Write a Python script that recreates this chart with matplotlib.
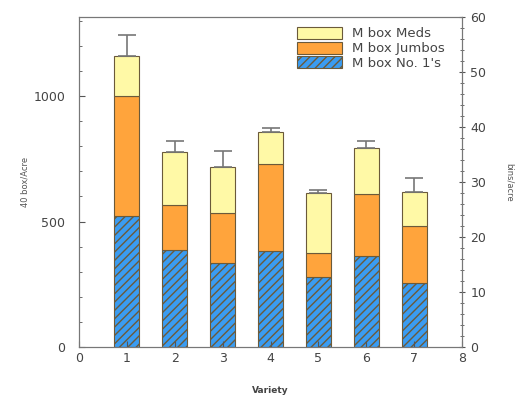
"""
variety_yield_plot.py
"""
import numpy as np
import matplotlib.pyplot as plt
from matplotlib.ticker import MultipleLocator
# ------------------------Data--------------------------------------------------
variety = [1, 2, 3, 4, 5, 6, 7]
no1 = [521, 386, 334, 383, 279, 362, 255]
jumbos = [481, 179, 199, 345, 95, 246, 226]
meds = [159, 211, 183, 127, 238, 183, 136]
err_up = [84, 44, 64, 16, 12, 29, 55]
# ------------------------------------------------------------------------------
c_meds = '#FFF9A6'
c_jumbo = '#FFA43C'
c_no1 = '#3A9CF2'
edge = '#6b5a3a'
plt.rcParams['hatch.color'] = '#1f5fb0'
plt.rcParams['hatch.linewidth'] = 1.0
# ------------------------------------------------------------------------------
fig = plt.figure(figsize=(5.3, 4.08), dpi=100)
ax = fig.add_axes([79/530, 1-347/408, (462-79)/530, (347-17)/408])
w = 0.52
b1 = ax.bar(variety, no1, w, color=c_no1, edgecolor=edge, lw=0.8,
            hatch='////', label="M box No. 1's")
b2 = ax.bar(variety, jumbos, w, bottom=no1, color=c_jumbo, edgecolor=edge,
            lw=0.8, label='M box Jumbos')
bot3 = np.array(no1) + np.array(jumbos)
b3 = ax.bar(variety, meds, w, bottom=bot3, color=c_meds, edgecolor=edge,
            lw=0.8, label='M box Meds')
tops = bot3 + np.array(meds)
ax.errorbar(variety, tops, yerr=[np.zeros(len(tops)), err_up], fmt='none',
            ecolor='#777777', elinewidth=1.2, capsize=6.5, capthick=1.2)
# ------------------------------------------------------------------------------
ax.set_xlim(0, 8)
ax.set_ylim(0, 1315)
ax.set_xticks(range(9))
ax.yaxis.set_major_locator(MultipleLocator(500))
ax.yaxis.set_minor_locator(MultipleLocator(100))
ax.tick_params(axis='both', which='both', direction='in', colors='#555555',
               labelcolor='#444444', labelsize=9)
ax.tick_params(which='major', length=4)
ax.tick_params(which='minor', length=2)
ax.tick_params(axis='y', pad=10)
for s in ax.spines.values():
    s.set_color('#777777')
ax.set_xlabel('Variety', fontsize=6.5, fontweight='bold', color='#444444',
              labelpad=15)
ax.set_ylabel('40 box/Acre', fontsize=6, color='#555555', labelpad=3)

ax2 = ax.twinx()
ax2.set_ylim(0, 60)
ax2.yaxis.set_major_locator(MultipleLocator(10))
ax2.yaxis.set_minor_locator(MultipleLocator(2))
ax2.tick_params(axis='y', which='both', direction='inout', colors='#555555',
                labelcolor='#444444', labelsize=9)
ax2.tick_params(which='major', length=5)
ax2.tick_params(which='minor', length=3)
for s in ax2.spines.values():
    s.set_color('#777777')
ax2.set_ylabel('bins/acre', fontsize=6, color='#555555', rotation=-90,
               labelpad=20)

leg = ax.legend(handles=[b3, b2, b1], loc='upper left', frameon=False,
                bbox_to_anchor=((297-79)/383, (347-27)/330),
                borderaxespad=0, borderpad=0,
                fontsize=9.5, handlelength=3.4, handleheight=1.0,
                labelspacing=0.1, handletextpad=0.75)
for t in leg.get_texts():
    t.set_color('#444444')
plt.savefig('out.png', dpi=100)
